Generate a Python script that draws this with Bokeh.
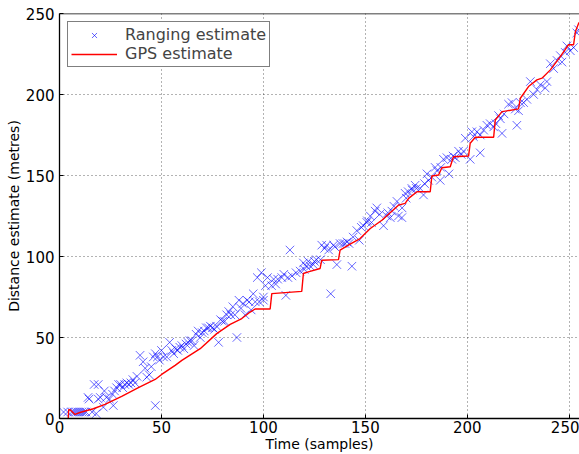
from bokeh.plotting import figure
from bokeh.models import FixedTicker, Legend, LegendItem, Range1d, Span
from bokeh.embed import file_html
from bokeh.resources import INLINE

# Ranging estimate (blue x markers)
rng_t = [2, 4, 6, 7, 8, 9, 10, 11, 12, 13, 14, 14.5, 16, 17, 18, 19, 19, 20, 21.5, 22, 23, 24.5, 26, 26.4,
         27, 28, 29, 30, 31, 32, 33, 34, 35, 36, 37, 38, 39.5, 41, 42, 42.8, 44, 45, 46, 47, 47, 48,
         49, 50, 51, 52.6, 54, 55, 56, 57, 58, 59, 60, 61, 62, 63, 64, 65, 66, 67, 68, 69, 70,
         71, 72, 73, 74, 75, 76, 77, 78, 79, 80, 81, 82, 83, 84, 85, 86, 87, 88, 89, 90, 91,
         92, 93, 94, 95, 96, 97, 98, 99, 100, 100, 101, 102, 104, 105, 106, 107, 109, 110, 111,
         112, 113, 114, 116, 118, 119.6, 120, 121, 122, 123, 124.5, 125, 126, 128, 128.6, 130,
         131, 132, 133, 134.4, 135, 136, 137.6, 139, 140, 141, 142, 143.4, 144, 145.8, 147, 148,
         149, 150.7, 151, 152.4, 153, 154.8, 155.6, 157, 158.9, 160.5, 161, 162.2, 163, 164,
         165.5, 166.2, 167.9, 168, 169.5, 170, 171, 172.8, 173, 174.4, 175, 176.9, 178.5, 179,
         180.2, 181, 182.6, 184.2, 185.1, 186.7, 187, 188.3, 190, 191, 192.4, 193, 194.1, 195.7,
         197, 198.1, 199, 201.4, 202.2, 203, 204.7, 206.3, 206.3, 208, 209.6, 211.2, 212.9, 214,
         215.3, 216.2, 217, 218, 220.2, 221.9, 223.5, 224.3, 225.1, 226, 227.6, 229.2, 230.9,
         232.5, 234.2, 235.8, 238.2, 239, 240.7, 242.3, 244, 245.6, 246.4, 248, 248.8, 250.5,
         252.1, 253.7, 254.5]
rng_d = [4, 4, 4, 4, 4, 4, 4, 4, 4, 4, 13, 12, 4, 21, 3, 21, 12, 13, 7, 17, 13, 12, 15, 8,
         17, 19, 21, 21, 19, 21, 22, 21, 22, 24, 22, 26, 39, 35, 31, 25.5, 27, 32, 38, 40, 8, 38,
         36, 42, 38, 38, 47, 42, 40, 43, 42, 44, 45, 43, 46, 47, 48, 48, 45, 52, 54, 50, 53,
         54, 56, 56, 57, 56, 55, 57, 47, 61, 60, 60, 64, 66, 64, 69, 64, 50, 73, 68, 71, 64,
         73, 72, 67, 77, 72, 87, 72, 90, 73, 75, 82, 87, 82, 86, 83, 86, 87, 89, 76,
         87, 104, 88, 90, 91, 96, 92, 94, 97, 94, 95, 97, 98, 98, 107, 105,
         107, 104, 77, 107, 106, 95, 108, 108, 108, 109, 108, 94, 112, 116, 110, 118,
         119, 121, 122, 125, 121, 128, 130, 126, 119, 125, 127, 124, 128, 131,
         134, 125, 124, 130, 139, 136, 140, 142, 141, 144, 142, 142, 138, 145,
         151, 147, 149, 155, 153, 147, 155, 160, 161, 151, 160, 162, 161, 165,
         163, 165, 173, 160, 177, 174, 177, 175, 164, 178, 181, 182, 180, 182,
         187, 185, 176, 188, 194, 195, 191, 181, 190, 195, 195, 197, 208,
         200, 203, 206, 204, 208, 219, 216, 221, 224, 220, 226, 230, 227,
         229, 238, 240]

# GPS estimate (red line)
gps_t = [4.3, 4.5, 5.2, 7.6, 10, 16.6, 22.3, 30.5, 38.7, 46.9, 50.1, 56.7, 60, 69, 77.1, 83.7,
         89.4, 93.5, 95.9, 103.3, 104.1, 118.8, 119.6, 122, 127.8, 128.6, 136.8, 137.6, 142.5,
         147.4, 152.4, 158.1, 166.2, 169.5, 171.2, 175.3, 181.8, 182.6, 185.9, 187.5, 191.6,
         193.2, 200.6, 201.4, 203.9, 212.9, 213.7, 217, 225.1, 226, 230, 234.1, 236.6, 240.7,
         245.6, 249.6, 252.1, 253, 254.6, 256]
gps_d = [0, 5.4, 5.4, 2.5, 3.7, 6, 8.7, 13.6, 19, 24.1, 27.2, 32.8, 35.9, 43.1, 52.4, 58.1,
         61.7, 65.7, 67.6, 67.6, 77.1, 78.5, 89.5, 90.5, 92.6, 97.7, 98.1, 103.9, 107.6,
         111.1, 117.3, 122.4, 131.7, 132.8, 135.9, 140, 140, 149.7, 150.3, 154.8, 155.4,
         161.6, 162, 169.9, 173.6, 173.6, 184.3, 189.4, 191.1, 197.7, 204.9, 209, 210.1, 215.2,
         223.4, 230.7, 230.7, 238.9, 244, 246]

x_ticks = [0, 50, 100, 150, 200, 250]
y_ticks = [0, 50, 100, 150, 200, 250]

FONT = "DejaVu Sans"

p = figure(frame_width=520, frame_height=405, x_range=Range1d(0, 255), y_range=Range1d(0, 250),
           output_backend="svg", toolbar_location=None,
           min_border_left=59, min_border_right=0, min_border_top=13, min_border_bottom=36)
p.outline_line_color = None
p.background_fill_color = "white"
p.border_fill_color = "white"

r_sc = p.scatter(rng_t, rng_d, marker="x", size=12, line_color="blue", line_alpha=0.6, line_width=1)
r_ln = p.line(gps_t, gps_d, line_color="red", line_width=1.4)

for ax, tk in ((p.xaxis[0], x_ticks), (p.yaxis[0], y_ticks)):
    ax.ticker = FixedTicker(ticks=tk)
    ax.major_tick_in = 4
    ax.major_tick_out = 0
    ax.minor_tick_line_color = None
    ax.axis_line_color = "black"
    ax.axis_line_width = 1.3
    ax.major_tick_line_color = "black"
    ax.major_label_text_font = FONT
    ax.major_label_text_color = "black"
    ax.axis_label_text_font = FONT
    ax.axis_label_text_font_style = "normal"
    ax.axis_label_text_color = "black"

p.xaxis.axis_label = "Time (samples)"
p.yaxis.axis_label = "Distance estimate (metres)"
p.xaxis.major_label_text_font_size = "15px"
p.yaxis.major_label_text_font_size = "15px"
p.xaxis.axis_label_text_font_size = "14px"
p.yaxis.axis_label_text_font_size = "14px"
p.xaxis.major_label_standoff = 2
p.xaxis.axis_label_standoff = 0
p.yaxis.major_label_standoff = 5
p.yaxis.axis_label_standoff = 1

top_line = Span(location=250, dimension="width", line_color="black", line_width=1.3)
p.add_layout(top_line)

for g in (p.xgrid[0], p.ygrid[0]):
    g.grid_line_color = "black"
    g.grid_line_alpha = 0.6
    g.grid_line_dash = "1 3"
    g.grid_line_width = 1
p.xgrid.ticker = FixedTicker(ticks=x_ticks)
p.ygrid.ticker = FixedTicker(ticks=y_ticks)

legend = Legend(items=[LegendItem(label="Ranging estimate", renderers=[r_sc]),
                       LegendItem(label="GPS estimate", renderers=[r_ln])],
                location="top_left")
legend.margin = 8
legend.padding = 3
legend.spacing = 0
legend.label_height = 18
legend.glyph_height = 18
legend.glyph_width = 46
legend.label_standoff = 8
legend.label_text_font = FONT
legend.label_text_font_size = "16px"
legend.border_line_color = "black"
legend.border_line_width = 1
legend.background_fill_alpha = 1
p.add_layout(legend)

open("out.html", "w").write(file_html(p, INLINE))
